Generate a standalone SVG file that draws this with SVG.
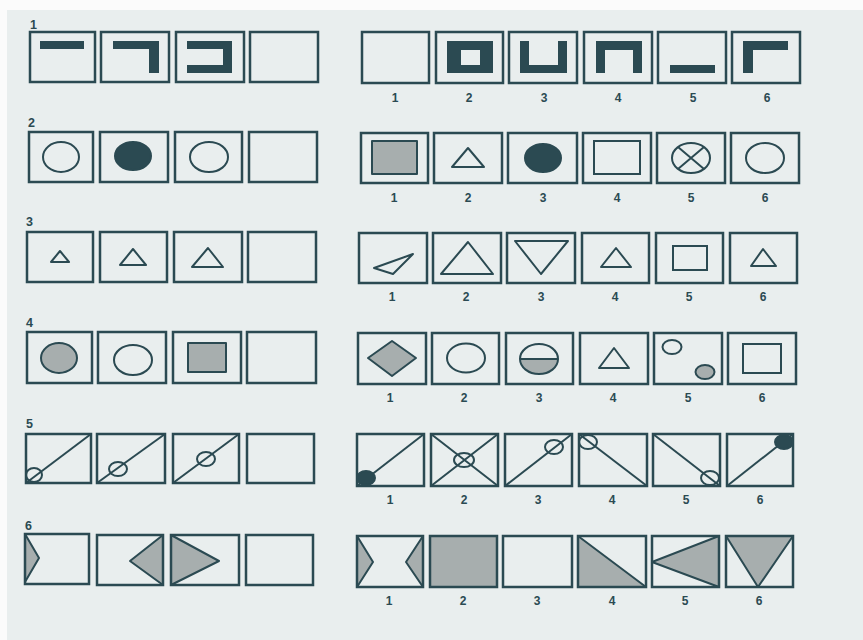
<svg xmlns="http://www.w3.org/2000/svg" width="863" height="640" viewBox="0 0 863 640">
<style>
.box{fill:none;stroke:#2b4a52;stroke-width:2.5}
.s{fill:none;stroke:#2b4a52;stroke-width:2}
.ink{fill:#2b4a52}
.dk{fill:#2b4a52;stroke:#2b4a52;stroke-width:2}
.g{fill:#a7aeae;stroke:#2b4a52;stroke-width:2;stroke-linejoin:round}
.gf{fill:#a7aeae}
.t{font-family:"Liberation Sans",Arial,sans-serif;font-size:12px;font-weight:bold;fill:#2b4a52;text-anchor:middle}
.r{font-family:"Liberation Sans",Arial,sans-serif;font-size:12.5px;font-weight:bold;fill:#2b4a52}
</style>
<rect width="863" height="640" fill="#fbfbfb"/>
<rect x="7" y="10" width="856" height="630" fill="#e9eeee"/>

<!-- Row 1 -->
<g id="row1">
<text class="r" x="30" y="29">1</text>
<g id="r1q1"><rect class="box" x="30" y="32" width="65" height="50"/><rect class="ink" x="40" y="41" width="44" height="8"/></g>
<g id="r1q2"><rect class="box" x="101" y="32" width="68" height="50"/><path class="ink" d="M113 41H159V73H149V49H113Z"/></g>
<g id="r1q3"><rect class="box" x="176" y="32" width="68" height="50"/><path class="ink" d="M187 41H232V73H187V65H223V49H187Z"/></g>
<g id="r1q4"><rect class="box" x="250" y="32" width="68" height="50"/></g>
<g id="r1a1"><rect class="box" x="362" y="32" width="67" height="51"/></g>
<g id="r1a2"><rect class="box" x="436" y="32" width="67" height="51"/><path class="ink" fill-rule="evenodd" d="M447 41H493V73H447Z M461 50V65H480V50Z"/></g>
<g id="r1a3"><rect class="box" x="509" y="32" width="68" height="51"/><path class="ink" d="M520 41H529V65H558V41H567V73H520Z"/></g>
<g id="r1a4"><rect class="box" x="584" y="32" width="68" height="51"/><path class="ink" d="M596 41H642V73H633V50H605V73H596Z"/></g>
<g id="r1a5"><rect class="box" x="658" y="32" width="68" height="51"/><rect class="ink" x="670" y="65" width="45" height="8"/></g>
<g id="r1a6"><rect class="box" x="732" y="32" width="68" height="51"/><path class="ink" d="M743 41H788V50H753V73H743Z"/></g>
<text class="t" x="395" y="102">1</text><text class="t" x="469" y="102">2</text><text class="t" x="544" y="102">3</text><text class="t" x="618" y="102">4</text><text class="t" x="693" y="102">5</text><text class="t" x="767" y="102">6</text>
</g>

<!-- Row 2 -->
<g id="row2">
<text class="r" x="28" y="127">2</text>
<g id="r2q1"><rect class="box" x="29" y="132" width="64" height="50"/><ellipse class="s" cx="61" cy="157" rx="18" ry="15"/></g>
<g id="r2q2"><rect class="box" x="100" y="132" width="68" height="50"/><ellipse class="dk" cx="133" cy="156" rx="18" ry="14"/></g>
<g id="r2q3"><rect class="box" x="175" y="132" width="67" height="50"/><ellipse class="s" cx="209" cy="157" rx="19" ry="15"/></g>
<g id="r2q4"><rect class="box" x="249" y="132" width="68" height="50"/></g>
<g id="r2a1"><rect class="box" x="361" y="133" width="67" height="50"/><rect class="g" x="372" y="141" width="45" height="33"/></g>
<g id="r2a2"><rect class="box" x="434" y="133" width="68" height="50"/><path class="s" stroke-linejoin="round" d="M468 148L484 167H452Z"/></g>
<g id="r2a3"><rect class="box" x="508" y="133" width="69" height="50"/><ellipse class="dk" cx="543" cy="158" rx="18" ry="14"/></g>
<g id="r2a4"><rect class="box" x="583" y="133" width="68" height="50"/><rect class="s" x="594" y="141" width="46" height="33"/></g>
<g id="r2a5"><rect class="box" x="657" y="133" width="68" height="50"/><ellipse class="s" cx="691" cy="158" rx="19" ry="15"/><path class="s" d="M678 147L704 169M704 147L678 169"/></g>
<g id="r2a6"><rect class="box" x="731" y="133" width="68" height="50"/><ellipse class="s" cx="765" cy="158" rx="19" ry="15"/></g>
<text class="t" x="394" y="202">1</text><text class="t" x="468" y="202">2</text><text class="t" x="543" y="202">3</text><text class="t" x="617" y="202">4</text><text class="t" x="691" y="202">5</text><text class="t" x="765" y="202">6</text>
</g>

<!-- Row 3 -->
<g id="row3">
<text class="r" x="26" y="226">3</text>
<g id="r3q1"><rect class="box" x="27" y="232" width="66" height="50"/><path class="s" stroke-linejoin="round" d="M60 251L69 262H51Z"/></g>
<g id="r3q2"><rect class="box" x="100" y="232" width="67" height="50"/><path class="s" stroke-linejoin="round" d="M133 249L146 265H120Z"/></g>
<g id="r3q3"><rect class="box" x="174" y="232" width="68" height="50"/><path class="s" stroke-linejoin="round" d="M208 248L223 267H192Z"/></g>
<g id="r3q4"><rect class="box" x="248" y="232" width="68" height="50"/></g>
<g id="r3a1"><rect class="box" x="359" y="233" width="68" height="50"/><path class="s" stroke-linejoin="round" d="M374 268L413 254L393 274Z"/></g>
<g id="r3a2"><rect class="box" x="433" y="233" width="68" height="50"/><path class="s" stroke-linejoin="round" d="M468 242L493 274H441Z"/></g>
<g id="r3a3"><rect class="box" x="507" y="233" width="68" height="50"/><path class="s" stroke-linejoin="round" d="M515 241H568L541 274Z"/></g>
<g id="r3a4"><rect class="box" x="582" y="233" width="67" height="50"/><path class="s" stroke-linejoin="round" d="M616 248L631 267H601Z"/></g>
<g id="r3a5"><rect class="box" x="656" y="233" width="67" height="50"/><rect class="s" x="673" y="246" width="34" height="24"/></g>
<g id="r3a6"><rect class="box" x="730" y="233" width="67" height="50"/><path class="s" stroke-linejoin="round" d="M763 249L776 266H751Z"/></g>
<text class="t" x="392" y="301">1</text><text class="t" x="466" y="301">2</text><text class="t" x="541" y="301">3</text><text class="t" x="615" y="301">4</text><text class="t" x="689" y="301">5</text><text class="t" x="763" y="301">6</text>
</g>

<!-- Row 4 -->
<g id="row4">
<text class="r" x="26" y="327">4</text>
<g id="r4q1"><rect class="box" x="27" y="332" width="65" height="51"/><ellipse class="g" cx="59" cy="358" rx="18" ry="15"/></g>
<g id="r4q2"><rect class="box" x="98" y="332" width="68" height="51"/><ellipse class="s" cx="133" cy="360" rx="19" ry="15"/></g>
<g id="r4q3"><rect class="box" x="173" y="332" width="68" height="51"/><rect class="g" x="188" y="343" width="38" height="29"/></g>
<g id="r4q4"><rect class="box" x="247" y="332" width="69" height="51"/></g>
<g id="r4a1"><rect class="box" x="358" y="333" width="68" height="51"/><path class="g" d="M392 341L416 358L392 376L368 358Z"/></g>
<g id="r4a2"><rect class="box" x="432" y="333" width="67" height="51"/><ellipse class="s" cx="466" cy="358" rx="19" ry="14.5"/></g>
<g id="r4a3"><rect class="box" x="506" y="333" width="67" height="51"/><path class="gf" d="M520 359A19 15 0 0 0 558 359Z"/><ellipse class="s" cx="539" cy="359" rx="19" ry="15"/><path class="s" d="M520 359H558"/></g>
<g id="r4a4"><rect class="box" x="580" y="333" width="68" height="51"/><path class="s" stroke-linejoin="round" d="M614 348L629 368H599Z"/></g>
<g id="r4a5"><rect class="box" x="654" y="333" width="68" height="51"/><ellipse class="s" cx="672" cy="347" rx="9.5" ry="7"/><ellipse class="g" cx="705" cy="372" rx="9.5" ry="7"/></g>
<g id="r4a6"><rect class="box" x="728" y="333" width="68" height="51"/><rect class="s" x="743" y="344" width="38" height="29"/></g>
<text class="t" x="390" y="402">1</text><text class="t" x="464" y="402">2</text><text class="t" x="539" y="402">3</text><text class="t" x="613" y="402">4</text><text class="t" x="688" y="402">5</text><text class="t" x="762" y="402">6</text>
</g>

<!-- Row 5 -->
<g id="row5">
<text class="r" x="26" y="428">5</text>
<g id="r5q1"><rect class="box" x="26" y="434" width="65" height="49"/><path class="s" d="M26 483L91 434"/><ellipse class="s" cx="34" cy="475" rx="8" ry="7"/></g>
<g id="r5q2"><rect class="box" x="97" y="434" width="68" height="49"/><path class="s" d="M97 483L165 434"/><ellipse class="s" cx="118" cy="469" rx="9" ry="7"/></g>
<g id="r5q3"><rect class="box" x="173" y="434" width="66" height="49"/><path class="s" d="M173 483L239 434"/><ellipse class="s" cx="206" cy="459" rx="9" ry="7"/></g>
<g id="r5q4"><rect class="box" x="247" y="434" width="67" height="49"/></g>
<g id="r5a1"><rect class="box" x="357" y="434" width="67" height="52"/><path class="s" d="M357 486L424 434"/><ellipse class="dk" cx="366" cy="478" rx="9" ry="7"/></g>
<g id="r5a2"><rect class="box" x="431" y="434" width="67" height="52"/><path class="s" d="M431 486L498 434M431 434L498 486"/><ellipse class="s" cx="464" cy="460" rx="10" ry="7"/></g>
<g id="r5a3"><rect class="box" x="505" y="434" width="67" height="52"/><path class="s" d="M505 486L572 434"/><ellipse class="s" cx="554" cy="447" rx="9" ry="7"/></g>
<g id="r5a4"><rect class="box" x="579" y="434" width="68" height="52"/><path class="s" d="M579 434L647 486"/><ellipse class="s" cx="588" cy="442" rx="9" ry="7"/></g>
<g id="r5a5"><rect class="box" x="653" y="434" width="67" height="52"/><path class="s" d="M653 434L720 486"/><ellipse class="s" cx="710" cy="478" rx="9" ry="7"/></g>
<g id="r5a6"><rect class="box" x="727" y="434" width="66" height="52"/><path class="s" d="M727 486L793 434"/><ellipse class="dk" cx="784" cy="442" rx="9" ry="7"/></g>
<text class="t" x="390" y="504">1</text><text class="t" x="464" y="504">2</text><text class="t" x="538" y="504">3</text><text class="t" x="612" y="504">4</text><text class="t" x="686" y="504">5</text><text class="t" x="760" y="504">6</text>
</g>

<!-- Row 6 -->
<g id="row6">
<text class="r" x="25" y="530">6</text>
<g id="r6q1"><path class="g" d="M25 534L39 558L25 582Z"/><rect class="box" x="25" y="534" width="64" height="50"/></g>
<g id="r6q2"><path class="g" d="M163 535L130 561L163 585Z"/><rect class="box" x="97" y="535" width="66" height="50"/></g>
<g id="r6q3"><path class="g" d="M171 535L219 561L171 585Z"/><rect class="box" x="171" y="535" width="68" height="50"/></g>
<g id="r6q4"><rect class="box" x="246" y="535" width="67" height="50"/></g>
<g id="r6a1"><path class="g" d="M357 536L373 562L357 587Z"/><path class="g" d="M423 536L406 562L423 587Z"/><rect class="box" x="357" y="536" width="66" height="51"/></g>
<g id="r6a2"><rect class="box" x="430" y="536" width="67" height="51" style="fill:#a7aeae"/></g>
<g id="r6a3"><rect class="box" x="503" y="536" width="69" height="51"/></g>
<g id="r6a4"><path class="g" d="M578 536L646 587H578Z"/><rect class="box" x="578" y="536" width="68" height="51"/></g>
<g id="r6a5"><path class="g" d="M652 562L719 536V587Z"/><rect class="box" x="652" y="536" width="67" height="51"/></g>
<g id="r6a6"><path class="g" d="M726 536H793L758 587Z"/><rect class="box" x="726" y="536" width="67" height="51"/></g>
<text class="t" x="389" y="605">1</text><text class="t" x="463" y="605">2</text><text class="t" x="537" y="605">3</text><text class="t" x="612" y="605">4</text><text class="t" x="685" y="605">5</text><text class="t" x="759" y="605">6</text>
</g>
<g id="connectors"/>
</svg>
